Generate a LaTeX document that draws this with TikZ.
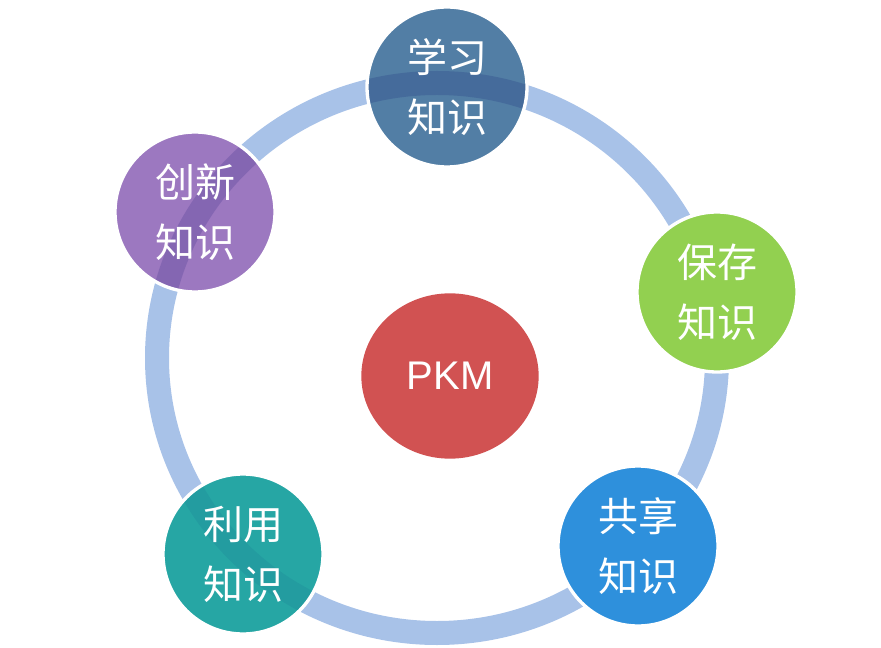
\documentclass[tikz,border=0pt]{standalone}
\usepackage{fontspec}
\setmainfont{Liberation Sans}
\newfontfamily\cjk{Noto Sans CJK SC}
\usepackage{tikz}
\definecolor{learnc}{RGB}{82, 126, 165}
\definecolor{savec}{RGB}{146, 208, 80}
\definecolor{sharec}{RGB}{46, 144, 220}
\definecolor{usec}{RGB}{38, 166, 164}
\definecolor{createc}{RGB}{156, 120, 192}
\definecolor{pkmc}{RGB}{209, 82, 82}
\definecolor{ringc}{RGB}{168, 194, 232}
\usetikzlibrary{shapes.geometric, positioning}

\begin{document}
\begin{tikzpicture}[
    x=0.75pt, y=-0.75pt,
    stage/.style={circle, draw=white, line width=2.5pt, fill=#1,
                  minimum size=120pt, inner sep=0pt, align=center,
                  text=white, font=\cjk\fontsize{30}{45}\selectfont},
    seen/.style={path picture={
        \draw[blue!40!black, opacity=#1, line width=18pt] (ring) ellipse [x radius=280, y radius=275];}}
]
    \useasboundingbox (0,0) rectangle (881,648);
    \coordinate (ring) at (437,358);

    % Ring
    \draw[ringc, line width=18pt] (ring) ellipse [x radius=280, y radius=275];

    % Stages
    \node[stage=learnc, seen=0.15] (learn) at (447,87) {学习\\知识};
    \node[stage=savec] (save) at (717,292) {保存\\知识};
    \node[stage=sharec] (share) at (638,546) {共享\\知识};
    \node[stage=usec, seen=0.06] (use) at (243,554) {利用\\知识};
    \node[stage=createc, seen=0.15] (create) at (195,212) {创新\\知识};

    % Center
    \node[ellipse, fill=pkmc, minimum width=133pt, minimum height=124pt, inner sep=0pt,
          text=white, font=\fontsize{30}{36}\selectfont] (pkm) at (450,376) {PKM};
\end{tikzpicture}
\end{document}
